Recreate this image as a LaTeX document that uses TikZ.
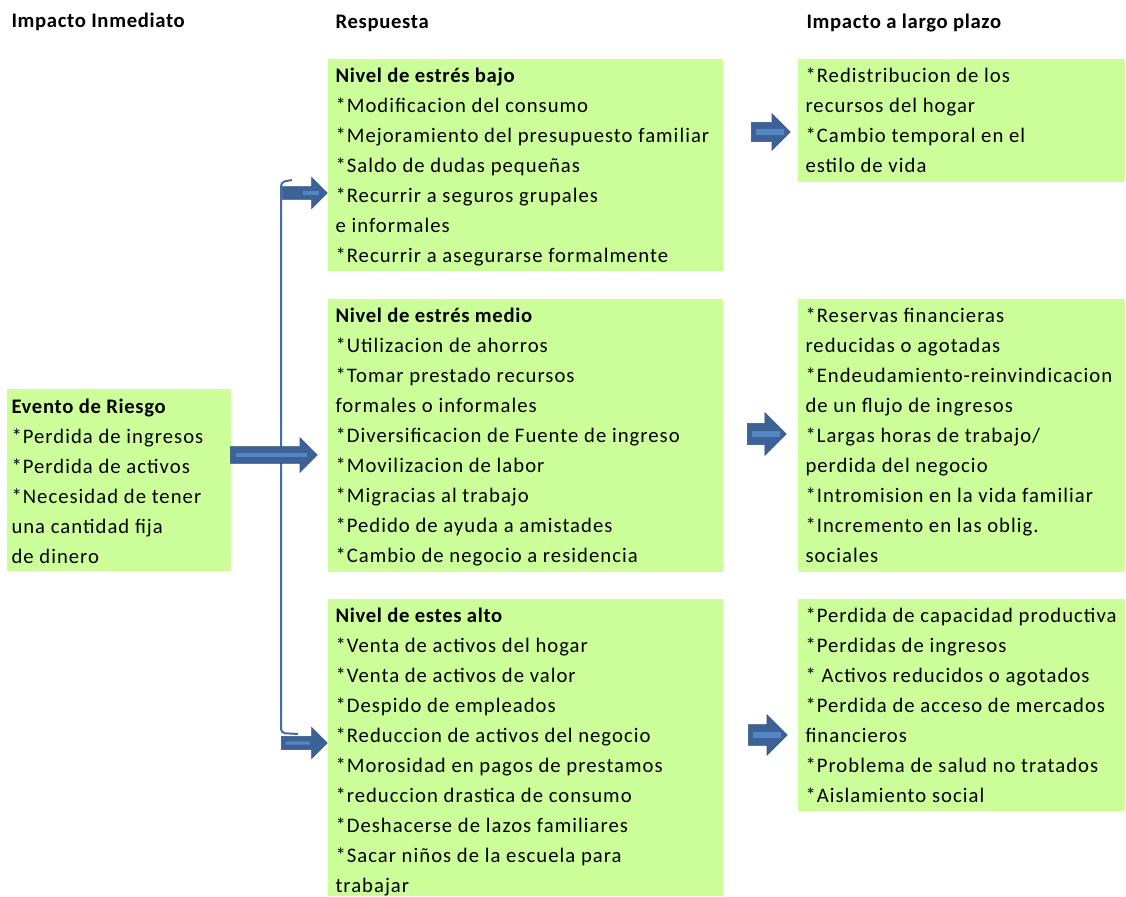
\documentclass[tikz,border=0pt]{standalone}
\usepackage{fontspec}
\setmainfont{Carlito}[LetterSpace=5,BoldFeatures={LetterSpace=3.3}]
\usetikzlibrary{shapes.arrows,calc}

\definecolor{boxgreen}{RGB}{204,255,153}
\definecolor{arrowblue}{RGB}{60,98,152}
\definecolor{stripeblue}{RGB}{84,134,196}
\definecolor{linkblue}{RGB}{68,108,166}

\tikzset{every picture/.style={line width=0.75pt},
  boxtext/.style={anchor=north west, inner sep=0pt, align=left, font=\fontsize{15.5}{22.5}\selectfont},
  header/.style={anchor=base west, inner sep=0pt, font=\fontsize{15.5}{22.5}\selectfont\bfseries},
  blockarrow/.style n args={3}{single arrow, fill=arrowblue, draw=arrowblue!85!black, line width=0.4pt,
    inner xsep=0pt, inner ysep=#2, anchor=tail, single arrow tip angle=90,
    minimum height=#1, single arrow head extend=#3},
  stripe/.style={draw=stripeblue, line width=#1},
  link/.style={draw=linkblue, line width=1.5pt}
}

\begin{document}
\begin{tikzpicture}[x=0.75pt,y=0.75pt,yscale=-1,xscale=1]
            \useasboundingbox (0,0) rectangle (1126,896);

            %Shapes: Rectangles
            \fill[boxgreen] (7,389) rectangle (231,571);
            \fill[boxgreen] (328,59) rectangle (723,271);
            \fill[boxgreen] (328,299) rectangle (723,572);
            \fill[boxgreen] (328,599) rectangle (723,896);
            \fill[boxgreen] (798,59) rectangle (1125,182);
            \fill[boxgreen] (798,299) rectangle (1125,572);
            \fill[boxgreen] (798,599) rectangle (1125,811);

            % Headers
            \node[header] (hinmediato) at (11,27) {Impacto Inmediato};
            \node[header] (hrespuesta) at (335,28) {Respuesta};
            \node[header] (hlargo) at (806,28) {Impacto a largo plazo};

            % Text Nodes
            \node[boxtext] (evento) at (11,392) {\strut\textbf{Evento de Riesgo}\\
              *Perdida de ingresos\\
              *Perdida de activos\\
              *Necesidad de tener\\
              una cantidad fija\\
              de dinero};
            \node[boxtext] (bajo) at (335,61) {\strut\textbf{Nivel de estrés bajo}\\
              *Modificacion del consumo\\
              *Mejoramiento del presupuesto familiar\\
              *Saldo de dudas pequeñas\\
              *Recurrir a seguros grupales\\
              e informales\\
              *Recurrir a asegurarse formalmente};
            \node[boxtext] (medio) at (335,301) {\strut\textbf{Nivel de estrés medio}\\
              *Utilizacion de ahorros\\
              *Tomar prestado recursos\\
              formales o informales\\
              *Diversificacion de Fuente de ingreso\\
              *Movilizacion de labor\\
              *Migracias al trabajo\\
              *Pedido de ayuda a amistades\\
              *Cambio de negocio a residencia};
            \node[boxtext] (alto) at (335,601) {\strut\textbf{Nivel de estes alto}\\
              *Venta de activos del hogar\\
              *Venta de activos de valor\\
              *Despido de empleados\\
              *Reduccion de activos del negocio\\
              *Morosidad en pagos de prestamos\\
              *reduccion drastica de consumo\\
              *Deshacerse de lazos familiares\\
              *Sacar niños de la escuela para\\
              trabajar};
            \node[boxtext] (largobajo) at (805,61) {\strut*Redistribucion de los\\
              recursos del hogar\\
              *Cambio temporal en el\\
              estilo de vida};
            \node[boxtext] (largomedio) at (805,301) {\strut*Reservas financieras\\
              reducidas o agotadas\\
              *Endeudamiento-reinvindicacion\\
              de un flujo de ingresos\\
              *Largas horas de trabajo/\\
              perdida del negocio\\
              *Intromision en la vida familiar\\
              *Incremento en las oblig.\\
              sociales};
            \node[boxtext] (largoalto) at (805,601) {\strut*Perdida de capacidad productiva\\
              *Perdidas de ingresos\\
              * Activos reducidos o agotados\\
              *Perdida de acceso de mercados\\
              financieros\\
              *Problema de salud no tratados\\
              *Aislamiento social};

            %Connector: bracket
            \coordinate (bracetop) at (292,180);
            \coordinate (bracebot) at (298,734);
            \draw[link, rounded corners=3pt] (bracetop) -- (281,182) -- (281,733) -- (bracebot);

            %Block Arrows
            \node[blockarrow={65.25pt}{6pt}{6.75pt}] (flecha) at (230,455) {};
            \node[blockarrow={33.75pt}{4.6pt}{7pt}] (flechabajo) at (282,193) {};
            \node[blockarrow={34.5pt}{4.8pt}{6.8pt}] (flechaalto) at (281,743) {};
            \node[blockarrow={29.25pt}{7pt}{6.5pt}] (largo1) at (751,132) {};
            \node[blockarrow={29.25pt}{7.8pt}{8pt}] (largo2) at (747,434) {};
            \node[blockarrow={29.25pt}{7.5pt}{7.5pt}] (largo3) at (748,735) {};

            %Stripes
            \draw[stripe=3pt] ($(flecha.tail)!0.07!(flecha.tip)$) -- ($(flecha.tail)!0.88!(flecha.tip)$);
            \draw[stripe=2.5pt] ($(flechabajo.tail)!0.45!(flechabajo.tip)$) -- ($(flechabajo.tail)!0.8!(flechabajo.tip)$);
            \draw[stripe=2.5pt] ($(flechaalto.tail)!0.1!(flechaalto.tip)$) -- ($(flechaalto.tail)!0.62!(flechaalto.tip)$);
            \foreach \n in {largo1,largo2,largo3}
              \draw[stripe=5pt] ($(\n.tail)!0.12!(\n.tip)$) -- ($(\n.tail)!0.82!(\n.tip)$);

        \end{tikzpicture}
\end{document}
